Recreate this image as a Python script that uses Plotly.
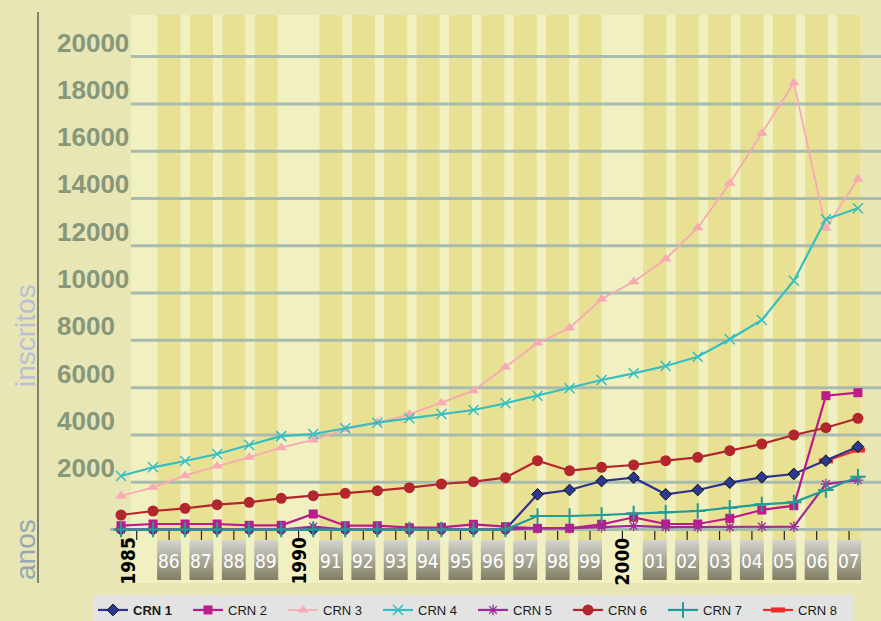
import plotly.graph_objects as go

# ---------------- data ----------------
tick_labels = ["1985", "86", "87", "88", "89", "1990", "91", "92", "93", "94", "95",
               "96", "97", "98", "99", "2000", "01", "02", "03", "04", "05", "06", "07"]
points = list(range(24))

crn1 = [0, 0, 0, 0, 0, 0, 0, 0, 0, 0, 0, 0, 0,
        1487, 1670, 2051, 2192, 1487, 1670, 1980, 2206, 2347, 2910, 3503]
crn2 = [160, 233, 233, 233, 177, 177, 656, 160, 160, 76, 93, 220, 118,
        50, 50, 220, 516, 233, 233, 474, 825, 1008, 5659, 5786]
crn3 = [1417, 1785, 2275, 2685, 3053, 3460, 3785, 4230, 4520, 4872, 5363, 5870,
        6872, 7886, 8520, 9748, 10480, 11440, 12764, 14641, 16755, 18897, 12738, 14823]
crn4 = [2263, 2630, 2897, 3193, 3574, 3950, 4039, 4280, 4517, 4703, 4885, 5054,
        5337, 5659, 5970, 6323, 6606, 6915, 7308, 8044, 8860, 10522, 13119, 13584]
crn5 = [0, 0, 0, 0, 0, 0, 120, 0, 0, 0, 0, 0, 0,
        60, 60, 100, 150, 100, 100, 100, 120, 120, 1920, 2090]
crn6 = [613, 782, 896, 1050, 1150, 1318, 1430, 1530, 1641, 1768, 1924, 2023,
        2192, 2910, 2487, 2630, 2728, 2910, 3053, 3333, 3616, 3997, 4305, 4703]
crn7 = [0, 0, 0, 0, 0, 0, 0, 0, 0, 0, 0, 0, 0,
        571, 571, 613, 684, 726, 782, 923, 1064, 1148, 1670, 2235]
crn8 = [None] * 22 + [2900, 3360]

y_ticks = [2000, 4000, 6000, 8000, 10000, 12000, 14000, 16000, 18000, 20000]

# ---------------- geometry helpers (pixels) ----------------
W, H = 881, 621
PL, PR, PT, PB = 106, 881, 15, 580          # plot area in pixels
pw, ph = PR - PL, PB - PT
px_per_unit = 0.023645
y_zero_px = 529.5
y_top = (y_zero_px - PT) / px_per_unit
y_bot = -(PB - y_zero_px) / px_per_unit

def ypx(p):      # pixel -> y data
    return (y_zero_px - p) / px_per_unit

def xp(p):       # pixel -> paper x
    return (p - PL) / pw

def yp(p):       # pixel -> paper y
    return (PB - p) / ph

# data axis: point 0 at 121 px, step 32.04 px
x0px, xstep = 121, 32.04
xr = [(PL - x0px) / xstep, (PR - x0px) / xstep]
# label axis: tick 0 at 136.7 px, step 32.38 px
t0px, tstep = 136.7, 32.38
x2r = [(PL - t0px) / tstep, (PR - t0px) / tstep]

grid_col = "#a7bbae"
stripe_col = "#e8e092"
inner_col = "#f1f0c1"
paper_col = "#e8e6b5"

fig = go.Figure()

shapes = []
# inner light area
shapes.append(dict(type="rect", xref="paper", yref="paper", x0=xp(131), x1=xp(861),
                   y0=yp(583), y1=yp(PT), fillcolor=inner_col, line_width=0, layer="below"))
striped = [k for k in range(len(tick_labels)) if len(tick_labels[k]) == 2]
for k in striped:
    shapes.append(dict(type="rect", xref="x2", yref="paper", x0=k - 0.355, x1=k + 0.355,
                       y0=yp(540), y1=1, fillcolor=stripe_col, line_width=0, layer="below"))
# gridlines
for v in y_ticks:
    shapes.append(dict(type="line", xref="paper", yref="y", x0=xp(131), x1=1, y0=v, y1=v,
                       line=dict(color=grid_col, width=3), layer="below"))
shapes.append(dict(type="line", xref="paper", yref="y", x0=xp(110), x1=1, y0=0, y1=0,
                   line=dict(color=grid_col, width=3), layer="below"))
# vertical line at left
shapes.append(dict(type="line", xref="paper", yref="paper", x0=xp(38), x1=xp(38),
                   y0=yp(583), y1=yp(12), line=dict(color="#4d4d44", width=1.3)))

# label boxes with gradient (one filled trace)
bx, by = [], []
for k in striped:
    bx += [k - 0.37, k + 0.37, k + 0.37, k - 0.37, k - 0.37, None]
    by += [ypx(580), ypx(580), ypx(540), ypx(540), ypx(580), None]
fig.add_trace(go.Scatter(x=bx, y=by, xaxis="x2", yaxis="y", mode="lines", fill="toself",
                         line=dict(width=0, color="rgba(0,0,0,0)"),
                         fillgradient=dict(type="vertical", start=ypx(580), stop=ypx(540),
                                           colorscale=[[0, "#827e64"], [0.55, "#aeac9c"], [1, "#d5d5cf"]]),
                         showlegend=False, hoverinfo="skip"))

# tick marks
tx, ty = [], []
for k in range(len(tick_labels)):
    tx += [k, k, None]
    ty += [ypx(531), ypx(540), None]
fig.add_trace(go.Scatter(x=tx, y=ty, xaxis="x2", mode="lines",
                         line=dict(color="#222", width=1.2), showlegend=False, hoverinfo="skip"))

series = [
    ("<b>CRN 1</b>", crn1, "#2e3192", 2.2, dict(symbol="diamond", size=9, color="#2b3990",
                                                 line=dict(color="#111", width=1))),
    ("CRN 2", crn2, "#bd1a8c", 2.2, dict(symbol="square", size=9, color="#bd1a8c")),
    ("CRN 3", crn3, "#f7a9b4", 1.8, dict(symbol="triangle-up", size=10, color="#f7a9b4")),
    ("CRN 4", crn4, "#35bfc0", 2.2, dict(symbol="x-thin", size=10, color="#35bfc0",
                                          line=dict(color="#35bfc0", width=1.5))),
    ("CRN 5", crn5, "#a02b96", 2.2, dict(symbol="asterisk", size=9, color="#a02b96",
                                          line=dict(color="#a02b96", width=1.3))),
    ("CRN 6", crn6, "#b2262d", 2.2, dict(symbol="circle", size=11, color="#b2262d")),
    ("CRN 7", crn7, "#1f9c95", 2.2, dict(symbol="cross-thin", size=11, color="#1f9c95",
                                          line=dict(color="#1f9c95", width=2))),
    ("CRN 8", crn8, "#ee2b2b", 2.2, dict(symbol="line-ew", size=10, color="#ee2b2b",
                                          line=dict(color="#ee2b2b", width=5))),
]
order = [7, 0, 1, 2, 3, 4, 5, 6]
for i in order:
    name, vals, col, lw, mk = series[i]
    fig.add_trace(go.Scatter(x=points, y=vals, name=name, mode="lines+markers",
                             line=dict(color=col, width=lw), marker=mk,
                             legendrank=i + 1, cliponaxis=False, connectgaps=False))

ann = []
for v in y_ticks:
    ann.append(dict(text=f"{v}", xref="paper", yref="y", x=xp(55), y=v, xanchor="left",
                    yanchor="bottom", yshift=-3, showarrow=False,
                    font=dict(family="Liberation Sans, Arial", size=26, color="#86977a", weight="bold")))
for k, lab in enumerate(tick_labels):
    if len(lab) == 2:
        ann.append(dict(text=lab, xref="x2", yref="y", x=k, y=ypx(560.5), showarrow=False,
                        font=dict(family="Liberation Sans Narrow, DejaVu Sans Condensed, Arial",
                                  size=19, color="white")))
    else:
        ann.append(dict(text=f"<b>{lab}</b>", xref="x2", yref="y", x=k, y=ypx(561),
                        xshift=-9 if k == 0 else 0, textangle=-90, showarrow=False,
                        font=dict(family="Liberation Sans Narrow, DejaVu Sans Condensed, Arial",
                                  size=19, color="black")))
ann.append(dict(text="inscritos", xref="paper", yref="paper", x=xp(25), y=yp(336), textangle=-90,
                xanchor="center", yanchor="middle",
                showarrow=False, font=dict(family="Liberation Sans, Arial", size=28, color="#b8bed4")))
ann.append(dict(text="anos", xref="paper", yref="paper", x=xp(25), y=yp(550), textangle=-90,
                xanchor="center", yanchor="middle",
                showarrow=False, font=dict(family="Liberation Sans, Arial", size=28, color="#93a8b4")))

fig.update_layout(
    width=W, height=H,
    margin=dict(l=PL, r=W - PR, t=PT, b=H - PB, autoexpand=False),
    paper_bgcolor=paper_col, plot_bgcolor="rgba(0,0,0,0)",
    xaxis=dict(range=xr, visible=False, fixedrange=True),
    xaxis2=dict(range=x2r, overlaying="x", visible=False),
    yaxis=dict(range=[y_bot, y_top], visible=False),
    shapes=shapes, annotations=ann,
    legend=dict(orientation="h", x=xp(93), y=yp(595), xanchor="left", yanchor="top",
                bgcolor="#e3e3e3", font=dict(family="Liberation Sans, Arial", size=13, color="#1a1a1a"),
                entrywidth=50, entrywidthmode="pixels", itemsizing="trace", tracegroupgap=0),
    showlegend=True,
)

fig.write_html("out.html", config={"displayModeBar": False},
               post_script="document.body.style.margin='0';document.body.style.background='%s';" % paper_col)
